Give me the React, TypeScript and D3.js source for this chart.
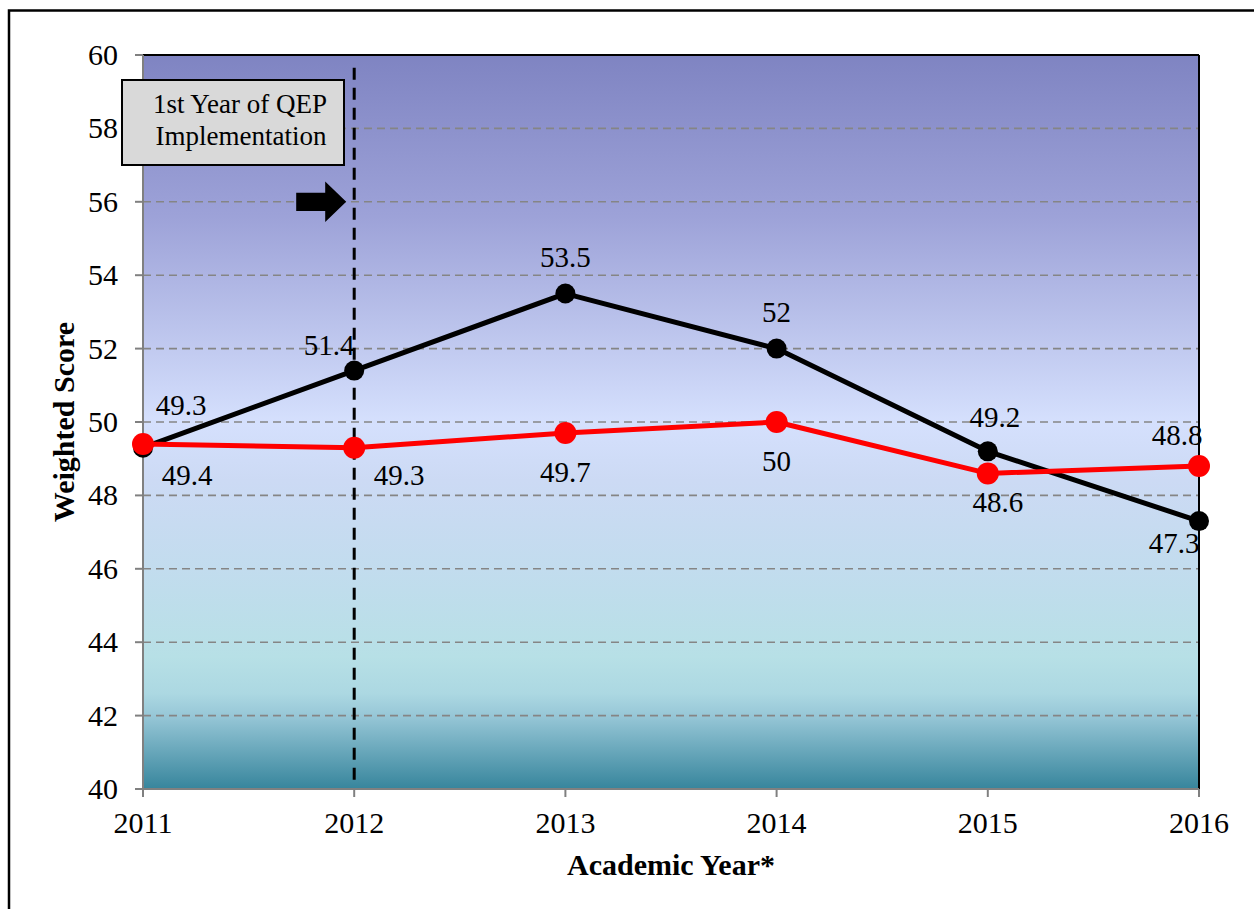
import React from "react";
import * as d3 from "d3";

const WIDTH = 1254;
const HEIGHT = 909;
const PLOT = { left: 143, right: 1199, top: 55, bottom: 789 };

const years = [2011, 2012, 2013, 2014, 2015, 2016];
const blackSeries = [49.3, 51.4, 53.5, 52, 49.2, 47.3];
const redSeries = [49.4, 49.3, 49.7, 50, 48.6, 48.8];
const yTicks = [40, 42, 44, 46, 48, 50, 52, 54, 56, 58, 60];
const qepYear = 2012;

// label offsets (dx, dy from the point to the text baseline centre)
const blackLabelOffsets: [number, number][] = [
  [38, -33], [-25, -16], [0, -27], [0, -27], [7, -24], [-25, 32],
];
const redLabelOffsets: [number, number][] = [
  [44, 41], [45, 37], [0, 49], [0, 49], [10, 39], [-22, -21],
];

const FONT = "'Liberation Serif', 'Times New Roman', serif";

const gradientStops = [
  { offset: 0, color: "#7f84c2" },
  { offset: 0.22, color: "#9da2d8" },
  { offset: 0.5, color: "#d5e0fd" },
  { offset: 0.58, color: "#ccdaf4" },
  { offset: 0.7, color: "#c2dcee" },
  { offset: 0.82, color: "#b7e0e6" },
  { offset: 0.87, color: "#acd8e2" },
  { offset: 0.9, color: "#97c7d7" },
  { offset: 1, color: "#37859c" },
];

export default function App() {
  const x = d3.scalePoint<number>().domain(years).range([PLOT.left, PLOT.right]);
  const y = d3.scaleLinear().domain([40, 60]).range([PLOT.bottom, PLOT.top]);

  const line = d3
    .line<number>()
    .x((_, i) => x(years[i])!)
    .y((d) => y(d));

  const qx = x(qepYear)!;

  const series = [
    { values: blackSeries, color: "#000000", offsets: blackLabelOffsets, r: 10 },
    { values: redSeries, color: "#ff0000", offsets: redLabelOffsets, r: 11 },
  ];

  return (
    <svg
      width={WIDTH}
      height={HEIGHT}
      style={{ position: "absolute", left: 0, top: 0, display: "block", background: "#fff" }}
      fontFamily={FONT}
    >
      <defs>
        <linearGradient id="bg" x1="0" y1="0" x2="0" y2="1">
          {gradientStops.map((s) => (
            <stop key={s.offset} offset={s.offset} stopColor={s.color} />
          ))}
        </linearGradient>
      </defs>

      {/* outer chart border */}
      <rect x={9} y={10.5} width={1300} height={1000} fill="none" stroke="#000" strokeWidth={2.5} />

      {/* plot background */}
      <rect
        x={PLOT.left}
        y={PLOT.top}
        width={PLOT.right - PLOT.left}
        height={PLOT.bottom - PLOT.top}
        fill="url(#bg)"
      />

      {/* grid lines */}
      {yTicks
        .filter((t) => t !== 40 && t !== 60)
        .map((t) => (
          <line
            key={t}
            x1={PLOT.left}
            x2={PLOT.right}
            y1={y(t)}
            y2={y(t)}
            stroke="#858585"
            strokeWidth={1.6}
            strokeDasharray="8 5"
          />
        ))}

      {/* plot frame top/right */}
      <line x1={PLOT.left} x2={PLOT.right} y1={PLOT.top} y2={PLOT.top} stroke="#000" strokeWidth={2} />
      <line x1={PLOT.right} x2={PLOT.right} y1={PLOT.top} y2={PLOT.bottom} stroke="#000" strokeWidth={2} />

      {/* axes */}
      <line x1={PLOT.left} x2={PLOT.left} y1={PLOT.top} y2={PLOT.bottom + 8} stroke="#808080" strokeWidth={2} />
      <line x1={PLOT.left - 8} x2={PLOT.right} y1={PLOT.bottom} y2={PLOT.bottom} stroke="#808080" strokeWidth={2} />
      {yTicks.map((t) => (
        <g key={t}>
          <line x1={PLOT.left - 8} x2={PLOT.left} y1={y(t)} y2={y(t)} stroke="#808080" strokeWidth={2} />
          <text x={PLOT.left - 25} y={y(t) + 10} textAnchor="end" fontSize={30}>
            {t}
          </text>
        </g>
      ))}
      {years.map((yr) => (
        <g key={yr}>
          <line x1={x(yr)} x2={x(yr)} y1={PLOT.bottom} y2={PLOT.bottom + 8} stroke="#808080" strokeWidth={2} />
          <text x={x(yr)} y={PLOT.bottom + 44} textAnchor="middle" fontSize={30}>
            {yr}
          </text>
        </g>
      ))}

      {/* axis titles */}
      <text x={671} y={875} textAnchor="middle" fontSize={30} fontWeight="bold">
        Academic Year*
      </text>
      <text
        transform={`translate(74, ${(PLOT.top + PLOT.bottom) / 2}) rotate(-90)`}
        textAnchor="middle"
        fontSize={30}
        fontWeight="bold"
      >
        Weighted Score
      </text>

      {/* QEP marker line */}
      <line
        x1={qx}
        x2={qx}
        y1={y(59.65)}
        y2={PLOT.bottom - 4}
        stroke="#000"
        strokeWidth={3}
        strokeDasharray="12 8"
      />

      {/* series */}
      {series.map((s, si) => (
        <g key={si}>
          <path d={line(s.values) ?? ""} fill="none" stroke={s.color} strokeWidth={5} strokeLinejoin="round" />
          {s.values.map((v, i) => (
            <circle key={i} cx={x(years[i])} cy={y(v)} r={s.r} fill={s.color} />
          ))}
        </g>
      ))}
      {series.map((s, si) =>
        s.values.map((v, i) => (
          <text
            key={`${si}-${i}`}
            x={x(years[i])! + s.offsets[i][0]}
            y={y(v) + s.offsets[i][1]}
            textAnchor="middle"
            fontSize={29}
          >
            {v}
          </text>
        ))
      )}

      {/* annotation box */}
      <rect x={122} y={80} width={222} height={85} fill="#d9d9d9" stroke="#000" strokeWidth={2} />
      <text x={240} y={113} textAnchor="middle" fontSize={27}>
        1st Year of QEP
      </text>
      <text x={241} y={145} textAnchor="middle" fontSize={27}>
        Implementation
      </text>

      {/* arrow */}
      <path
        d={`M${qx - 58},${y(56.25)} H${qx - 29} V${y(56.55)} L${qx - 8},${y(56)} L${qx - 29},${y(55.45)} V${y(55.75)} H${qx - 58} Z`}
        fill="#000"
      />
    </svg>
  );
}
